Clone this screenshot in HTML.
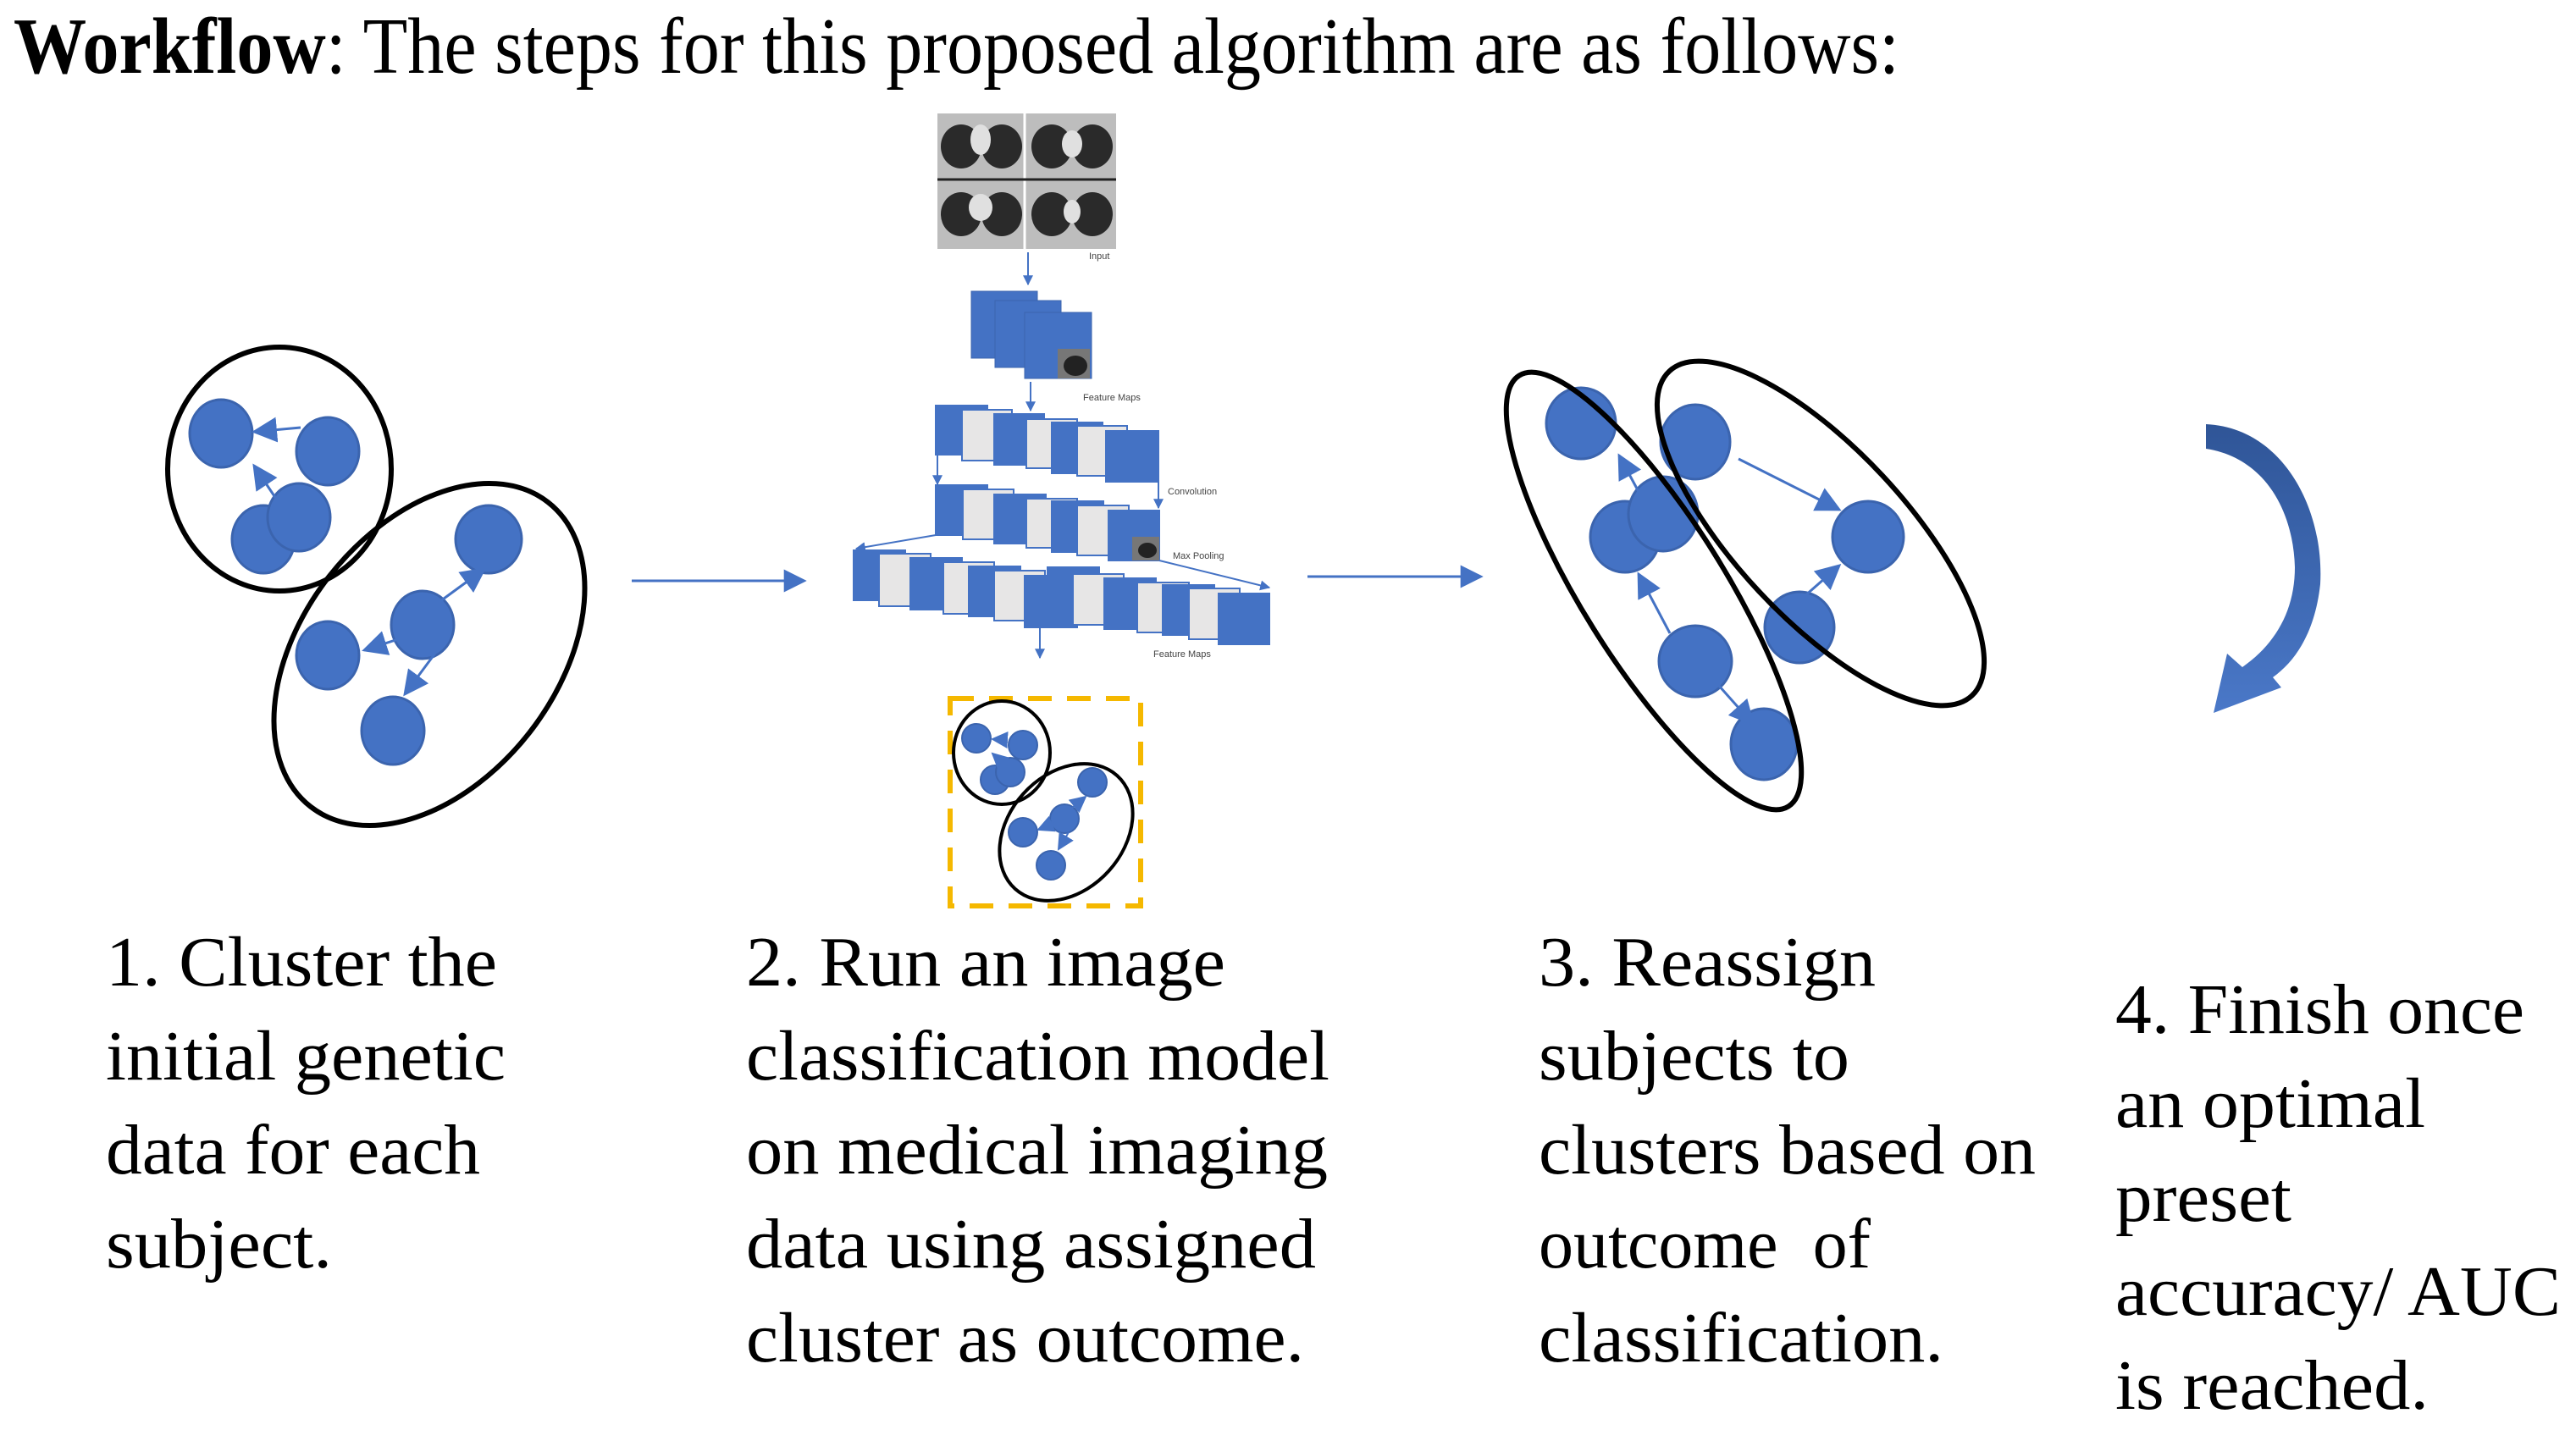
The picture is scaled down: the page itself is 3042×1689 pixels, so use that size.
<!DOCTYPE html>
<html><head><meta charset="utf-8"><style>
html,body{margin:0;padding:0;background:#fff;}
svg{display:block;}
text{font-family:"Liberation Serif",serif;fill:#000;}
.s{font-size:84px;}
.sm{font-family:"Liberation Sans",sans-serif;font-size:11px;fill:#444;}
</style></head><body>
<svg width="3042" height="1689" viewBox="0 0 3042 1689" xmlns="http://www.w3.org/2000/svg">
<defs>
<marker id="ah" viewBox="0 0 10 10" refX="9" refY="5" markerWidth="6" markerHeight="6" markerUnits="strokeWidth" orient="auto"><path d="M0,0 L10,5 L0,10 z" fill="#4472c4"/></marker>
<marker id="ah2" viewBox="0 0 10 10" refX="9" refY="5" markerWidth="9" markerHeight="9" markerUnits="strokeWidth" orient="auto"><path d="M0,0 L10,5 L0,10 z" fill="#4472c4"/></marker>
<marker id="ahb" viewBox="0 0 10 10" refX="9" refY="5" markerWidth="10" markerHeight="10" markerUnits="strokeWidth" orient="auto"><path d="M0,0 L10,5 L0,10 z" fill="#4472c4"/></marker>
<linearGradient id="cg" x1="0" y1="0" x2="0" y2="1"><stop offset="0" stop-color="#2f5597"/><stop offset="1" stop-color="#4a78c8"/></linearGradient>
</defs>

<text x="16" y="86" font-size="94" textLength="2227" lengthAdjust="spacingAndGlyphs"><tspan font-weight="bold">Workflow</tspan>: The steps for this proposed algorithm are as follows:</text>

<text class="s" x="125" y="1164" textLength="462" lengthAdjust="spacingAndGlyphs">1. Cluster the</text>
<text class="s" x="125" y="1275" textLength="472" lengthAdjust="spacingAndGlyphs">initial genetic</text>
<text class="s" x="125" y="1386" textLength="442" lengthAdjust="spacingAndGlyphs">data for each</text>
<text class="s" x="125" y="1497" textLength="267" lengthAdjust="spacingAndGlyphs">subject.</text>

<text class="s" x="881" y="1164" textLength="566" lengthAdjust="spacingAndGlyphs">2. Run an image</text>
<text class="s" x="881" y="1275" textLength="689" lengthAdjust="spacingAndGlyphs">classification model</text>
<text class="s" x="881" y="1386" textLength="687" lengthAdjust="spacingAndGlyphs">on medical imaging</text>
<text class="s" x="881" y="1497" textLength="673" lengthAdjust="spacingAndGlyphs">data using assigned</text>
<text class="s" x="881" y="1608" textLength="659" lengthAdjust="spacingAndGlyphs">cluster as outcome.</text>

<text class="s" x="1817" y="1164" textLength="398" lengthAdjust="spacingAndGlyphs">3. Reassign</text>
<text class="s" x="1817" y="1275" textLength="367" lengthAdjust="spacingAndGlyphs">subjects to</text>
<text class="s" x="1817" y="1386" textLength="587" lengthAdjust="spacingAndGlyphs">clusters based on</text>
<text class="s" x="1817" y="1497" textLength="392" lengthAdjust="spacingAndGlyphs" xml:space="preserve">outcome  of</text>
<text class="s" x="1817" y="1608" textLength="478" lengthAdjust="spacingAndGlyphs">classification.</text>

<text class="s" x="2498" y="1220" textLength="483" lengthAdjust="spacingAndGlyphs">4. Finish once</text>
<text class="s" x="2498" y="1331" textLength="366" lengthAdjust="spacingAndGlyphs">an optimal</text>
<text class="s" x="2498" y="1442" textLength="208" lengthAdjust="spacingAndGlyphs">preset</text>
<text class="s" x="2498" y="1553" textLength="526" lengthAdjust="spacingAndGlyphs">accuracy/ AUC</text>
<text class="s" x="2498" y="1664" textLength="370" lengthAdjust="spacingAndGlyphs">is reached.</text>

<g fill="#4472c4" stroke="#3b64ae" stroke-width="3">
<ellipse cx="261" cy="512" rx="37" ry="40"/>
<ellipse cx="387" cy="533" rx="37" ry="40"/>
<ellipse cx="311" cy="637" rx="37" ry="40"/>
<ellipse cx="353" cy="611" rx="37" ry="40"/>
<ellipse cx="577" cy="637" rx="39" ry="40"/>
<ellipse cx="499" cy="738" rx="37" ry="40"/>
<ellipse cx="387" cy="774" rx="37" ry="40"/>
<ellipse cx="464" cy="863" rx="37" ry="40"/>
</g>
<g stroke="#4472c4" stroke-width="3" fill="none">
<line x1="355" y1="505" x2="300" y2="510" marker-end="url(#ahb)"/>
<line x1="330" y1="595" x2="300" y2="550" marker-end="url(#ahb)"/>
<line x1="520" y1="710" x2="572" y2="672" marker-end="url(#ahb)"/>
<line x1="470" y1="755" x2="430" y2="768" marker-end="url(#ahb)"/>
<line x1="515" y1="770" x2="478" y2="820" marker-end="url(#ahb)"/>
</g>
<g fill="none" stroke="#000" stroke-width="6">
<ellipse cx="330" cy="554" rx="132" ry="144"/>
<ellipse cx="507" cy="773" rx="150" ry="228" transform="rotate(38 507 773)"/>
</g>

<line x1="746" y1="686" x2="950" y2="686" stroke="#4472c4" stroke-width="3" marker-end="url(#ah2)"/>
<line x1="1544" y1="681" x2="1749" y2="681" stroke="#4472c4" stroke-width="3" marker-end="url(#ah2)"/>

<g>
<rect x="1107" y="134" width="211" height="160" fill="#bdbdbd"/>
<g fill="#2a2a2a">
<ellipse cx="1135" cy="173" rx="24" ry="26"/><ellipse cx="1183" cy="173" rx="24" ry="26"/>
<ellipse cx="1242" cy="173" rx="24" ry="26"/><ellipse cx="1290" cy="173" rx="24" ry="26"/>
<ellipse cx="1135" cy="253" rx="24" ry="26"/><ellipse cx="1183" cy="253" rx="24" ry="26"/>
<ellipse cx="1242" cy="253" rx="24" ry="26"/><ellipse cx="1290" cy="253" rx="24" ry="26"/>
</g>
<g fill="#e0e0e0"><ellipse cx="1158" cy="165" rx="12" ry="18"/><ellipse cx="1266" cy="170" rx="12" ry="16"/><ellipse cx="1158" cy="245" rx="14" ry="16"/><ellipse cx="1266" cy="250" rx="10" ry="14"/></g>
<line x1="1210" y1="134" x2="1210" y2="294" stroke="#fff" stroke-width="3"/>
<line x1="1107" y1="212" x2="1318" y2="212" stroke="#222" stroke-width="3"/>
</g>
<text class="sm" x="1286" y="306">Input</text>
<line x1="1214" y1="298" x2="1214" y2="336" stroke="#4472c4" stroke-width="2" marker-end="url(#ah)"/>

<g fill="#4472c4" stroke="#3b64ae" stroke-width="1">
<rect x="1147" y="344" width="78" height="79"/>
<rect x="1175" y="355" width="78" height="79"/>
<rect x="1210" y="369" width="79" height="78"/>
</g>
<rect x="1249" y="412" width="38" height="35" fill="#777"/>
<ellipse cx="1270" cy="432" rx="14" ry="12" fill="#222"/>
<line x1="1217" y1="451" x2="1217" y2="485" stroke="#4472c4" stroke-width="2" marker-end="url(#ah)"/>
<text class="sm" x="1279" y="473">Feature Maps</text>

<g stroke="#4472c4" stroke-width="2">
<rect x="1105" y="479" width="61" height="58" fill="#4472c4"/>
<rect x="1136" y="484" width="59" height="60" fill="#e7e6e6"/>
<rect x="1174" y="489" width="59" height="60" fill="#4472c4"/>
<rect x="1212" y="495" width="60" height="58" fill="#e7e6e6"/>
<rect x="1242" y="499" width="60" height="60" fill="#4472c4"/>
<rect x="1272" y="503" width="59" height="59" fill="#e7e6e6"/>
<rect x="1306" y="509" width="62" height="60" fill="#4472c4"/>
</g>
<line x1="1107" y1="537" x2="1107" y2="572" stroke="#4472c4" stroke-width="2" marker-end="url(#ah)"/>
<line x1="1368" y1="569" x2="1368" y2="600" stroke="#4472c4" stroke-width="2" marker-end="url(#ah)"/>
<text class="sm" x="1379" y="584">Convolution</text>

<g stroke="#4472c4" stroke-width="2">
<rect x="1105" y="573" width="61" height="59" fill="#4472c4"/>
<rect x="1137" y="578" width="60" height="59" fill="#e7e6e6"/>
<rect x="1174" y="584" width="61" height="58" fill="#4472c4"/>
<rect x="1212" y="589" width="60" height="58" fill="#e7e6e6"/>
<rect x="1242" y="592" width="61" height="60" fill="#4472c4"/>
<rect x="1272" y="597" width="61" height="59" fill="#e7e6e6"/>
<rect x="1309" y="603" width="60" height="59" fill="#4472c4"/>
</g>
<rect x="1337" y="634" width="32" height="28" fill="#777"/>
<ellipse cx="1355" cy="650" rx="11" ry="9" fill="#222"/>
<text class="sm" x="1385" y="660">Max Pooling</text>
<line x1="1105" y1="632" x2="1011" y2="648" stroke="#4472c4" stroke-width="2" marker-end="url(#ah)"/>
<line x1="1369" y1="662" x2="1499" y2="694" stroke="#4472c4" stroke-width="2" marker-end="url(#ah)"/>

<g stroke="#4472c4" stroke-width="2">
<rect x="1008" y="650" width="61" height="59" fill="#4472c4"/>
<rect x="1038" y="654" width="61" height="62" fill="#e7e6e6"/>
<rect x="1075" y="659" width="61" height="61" fill="#4472c4"/>
<rect x="1114" y="664" width="60" height="61" fill="#e7e6e6"/>
<rect x="1144" y="669" width="61" height="59" fill="#4472c4"/>
<rect x="1174" y="674" width="60" height="59" fill="#e7e6e6"/>
<rect x="1210" y="680" width="62" height="61" fill="#4472c4"/>
<rect x="1237" y="670" width="61" height="60" fill="#4472c4"/>
<rect x="1267" y="678" width="60" height="60" fill="#e7e6e6"/>
<rect x="1304" y="683" width="61" height="60" fill="#4472c4"/>
<rect x="1343" y="688" width="61" height="59" fill="#e7e6e6"/>
<rect x="1373" y="691" width="61" height="59" fill="#4472c4"/>
<rect x="1404" y="695" width="60" height="60" fill="#e7e6e6"/>
<rect x="1439" y="701" width="60" height="60" fill="#4472c4"/>
</g>
<line x1="1228" y1="742" x2="1228" y2="777" stroke="#4472c4" stroke-width="2" marker-end="url(#ah)"/>
<text class="sm" x="1362" y="776">Feature Maps</text>

<rect x="1122" y="825" width="225" height="245" fill="none" stroke="#f5b800" stroke-width="6" stroke-dasharray="28,18"/>
<g fill="#4472c4" stroke="#3b64ae" stroke-width="2">
<circle cx="1153" cy="872" r="17"/><circle cx="1208" cy="880" r="17"/>
<circle cx="1175" cy="921" r="17"/><circle cx="1193" cy="912" r="17"/>
<circle cx="1290" cy="924" r="17"/><circle cx="1257" cy="967" r="17"/>
<circle cx="1208" cy="983" r="17"/><circle cx="1241" cy="1022" r="17"/>
</g>
<g stroke="#4472c4" stroke-width="2" fill="none">
<line x1="1190" y1="874" x2="1172" y2="873" marker-end="url(#ahb)"/>
<line x1="1183" y1="900" x2="1172" y2="890" marker-end="url(#ahb)"/>
<line x1="1265" y1="955" x2="1282" y2="941" marker-end="url(#ahb)"/>
<line x1="1245" y1="972" x2="1226" y2="980" marker-end="url(#ahb)"/>
<line x1="1262" y1="983" x2="1250" y2="1003" marker-end="url(#ahb)"/>
</g>
<g fill="none" stroke="#000" stroke-width="4">
<ellipse cx="1183" cy="889" rx="57" ry="61"/>
<ellipse cx="1259" cy="983" rx="68" ry="90" transform="rotate(42 1259 983)"/>
</g>

<g fill="#4472c4" stroke="#3b64ae" stroke-width="3">
<ellipse cx="1867" cy="500" rx="41" ry="42"/>
<ellipse cx="2002" cy="522" rx="41" ry="44"/>
<ellipse cx="1919" cy="634" rx="41" ry="42"/>
<ellipse cx="1964" cy="607" rx="41" ry="44"/>
<ellipse cx="2206" cy="634" rx="42" ry="42"/>
<ellipse cx="2125" cy="741" rx="41" ry="42"/>
<ellipse cx="2002" cy="781" rx="43" ry="42"/>
<ellipse cx="2083" cy="879" rx="39" ry="42"/>
</g>
<g stroke="#4472c4" stroke-width="3" fill="none">
<line x1="1940" y1="590" x2="1912" y2="538" marker-end="url(#ahb)"/>
<line x1="2053" y1="542" x2="2172" y2="602" marker-end="url(#ahb)"/>
<line x1="2130" y1="705" x2="2172" y2="668" marker-end="url(#ahb)"/>
<line x1="1972" y1="748" x2="1935" y2="678" marker-end="url(#ahb)"/>
<line x1="2030" y1="810" x2="2070" y2="855" marker-end="url(#ahb)"/>
</g>
<g fill="none" stroke="#000" stroke-width="6">
<ellipse cx="1953" cy="698" rx="84" ry="300" transform="rotate(-32 1953 698)"/>
<ellipse cx="2150" cy="630" rx="100" ry="262" transform="rotate(-43 2150 630)"/>
</g>

<path d="M2605,501 C2695,505 2745,600 2740,690 C2734,745 2712,780 2684,800 L2694,812 L2614,842 L2630,772 L2648,788 C2688,760 2710,720 2710,670 C2708,600 2672,540 2605,530 Z" fill="url(#cg)"/>
</svg>
</body></html>
